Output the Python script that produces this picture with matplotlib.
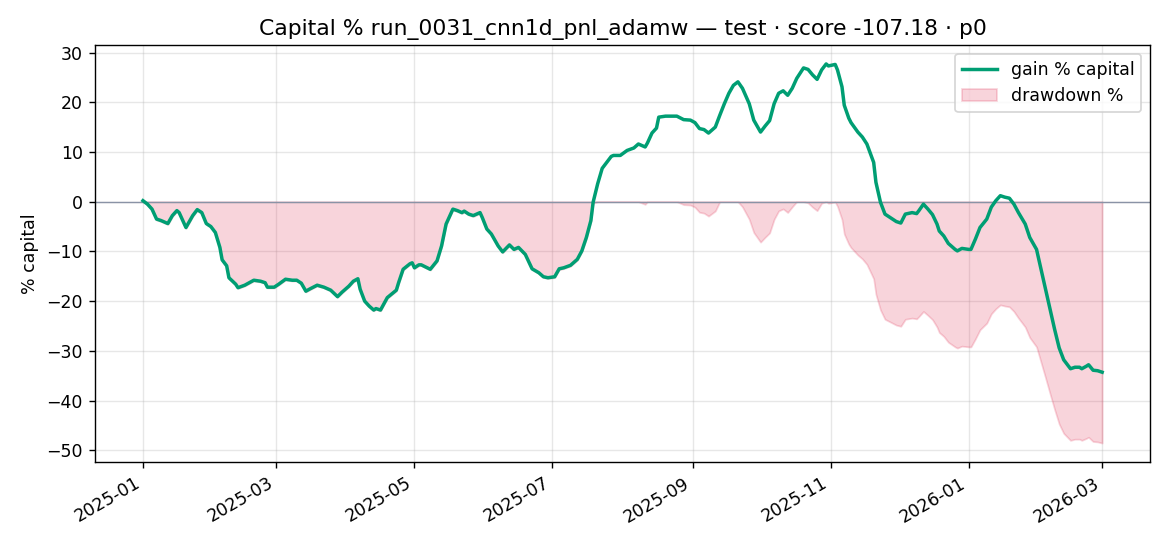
import numpy as np
import matplotlib
matplotlib.use("Agg")
import matplotlib.pyplot as plt
import matplotlib.dates as mdates

start_date = "2025-01-01"
day_offsets = [0, 2, 4, 6, 8, 11, 13, 15, 16, 19, 22, 24, 26, 28, 30, 32, 34, 35, 37, 38,
               41, 42, 45, 49, 52, 54, 55, 58, 60, 63, 66, 68, 70, 72, 74, 77, 80, 83, 86, 88,
               91, 93, 95, 96, 98, 100, 102, 103, 105, 108, 112, 113, 115, 118, 119, 120, 122, 123, 127, 130,
               132, 134, 137, 139, 141, 142, 144, 146, 149, 150, 152, 154, 157, 159, 162, 164, 166, 169, 172, 175,
               177, 179, 182, 184, 186, 189, 192, 194, 196, 198, 199, 201, 203, 205, 207, 208, 211, 214, 217, 219,
               222, 223, 225, 227, 228, 231, 233, 236, 239, 242, 244, 246, 248, 250, 253, 255, 257, 259, 261, 263,
               265, 268, 270, 273, 275, 277, 279, 281, 283, 285, 287, 289, 292, 294, 296, 298, 300, 302, 303, 306,
               307, 309, 310, 312, 313, 316, 318, 320, 323, 324, 326, 328, 331, 333, 335, 337, 340, 342, 343, 345,
               347, 349, 351, 352, 354, 356, 359, 360, 362, 365, 366, 368, 370, 373, 375, 377, 379, 381, 383, 385,
               387, 390, 392, 395, 397, 399, 401, 403, 405, 407, 410, 412, 414, 415, 417, 418, 420, 422, 424]
gain_pct = [0.2, -0.5, -1.5, -3.5, -3.8, -4.4, -2.8, -1.8, -2.2, -5.2, -2.8, -1.6, -2.2, -4.4, -5.0, -6.2, -9.2, -11.7, -12.9, -15.3,
            -16.6, -17.3, -16.8, -15.8, -16.0, -16.3, -17.2, -17.2, -16.6, -15.6, -15.8, -15.8, -16.4, -18.0, -17.5, -16.8, -17.2, -17.8, -19.1, -18.2,
            -17.0, -16.0, -15.5, -17.6, -20.0, -21.0, -21.8, -21.5, -21.8, -19.3, -17.8, -16.3, -13.6, -12.5, -12.3, -13.3, -12.7, -12.7, -13.6, -11.9,
            -8.9, -4.5, -1.5, -1.8, -2.2, -1.9, -2.5, -2.8, -2.2, -3.2, -5.5, -6.5, -8.9, -10.1, -8.7, -9.6, -9.2, -10.6, -13.5, -14.3,
            -15.1, -15.3, -15.1, -13.5, -13.3, -12.8, -11.6, -9.9, -7.2, -3.8, -0.1, 3.6, 6.7, 7.9, 9.1, 9.3, 9.3, 10.3, 10.8, 11.6,
            11.0, 11.8, 13.8, 14.8, 17.0, 17.2, 17.2, 17.2, 16.5, 16.4, 15.9, 14.7, 14.5, 13.8, 15.0, 17.4, 19.7, 21.8, 23.4, 24.1,
            22.8, 19.7, 16.4, 14.0, 15.2, 16.3, 19.7, 21.8, 22.3, 21.4, 22.8, 24.8, 26.9, 26.6, 25.5, 24.6, 26.5, 27.7, 27.3, 27.6,
            26.5, 23.1, 19.4, 16.8, 15.9, 14.0, 13.0, 11.6, 7.9, 3.9, -0.1, -2.5, -3.4, -4.0, -4.3, -2.5, -2.2, -2.4, -1.8, -0.5,
            -1.5, -2.6, -4.5, -5.9, -6.9, -8.4, -9.6, -9.9, -9.4, -9.6, -9.6, -7.5, -5.2, -3.5, -1.1, 0.2, 1.2, 0.9, 0.7, -0.5,
            -2.2, -4.5, -7.2, -9.6, -13.6, -17.6, -21.7, -25.7, -29.4, -31.8, -33.6, -33.3, -33.3, -33.6, -33.1, -32.8, -33.9, -34.0, -34.3]

title = "Capital % run_0031_cnn1d_pnl_adamw \u2014 test \u00b7 score -107.18 \u00b7 p0"

dates = np.datetime64(start_date) + np.array(day_offsets).astype("timedelta64[D]")
gain = np.array(gain_pct)
equity = 1 + gain / 100.0
drawdown = (equity / np.maximum.accumulate(np.maximum(equity, 1.0)) - 1) * 100

DPI = 125
fig, ax = plt.subplots(figsize=(1170 / DPI, 546 / DPI), dpi=DPI)

ax.plot(dates, gain, color="#009E73", lw=2.0, label="gain % capital", zorder=3)
ax.fill_between(dates, drawdown, 0, color="crimson", alpha=0.18, label="drawdown %", zorder=2)
ax.axhline(0, color="#8a93a6", lw=0.8, zorder=2.5)

ax.grid(True, alpha=0.3)
ax.set_ylabel("% capital")
ax.set_title(title, fontsize=12.6)
ax.legend(loc="upper right")

ax.xaxis.set_major_locator(mdates.MonthLocator(bymonth=[1, 3, 5, 7, 9, 11]))
ax.xaxis.set_major_formatter(mdates.DateFormatter("%Y-%m"))
fig.autofmt_xdate()
fig.subplots_adjust(left=0.0812, right=0.983, top=0.9176, bottom=0.1538)

fig.savefig("out.png", dpi=DPI)
